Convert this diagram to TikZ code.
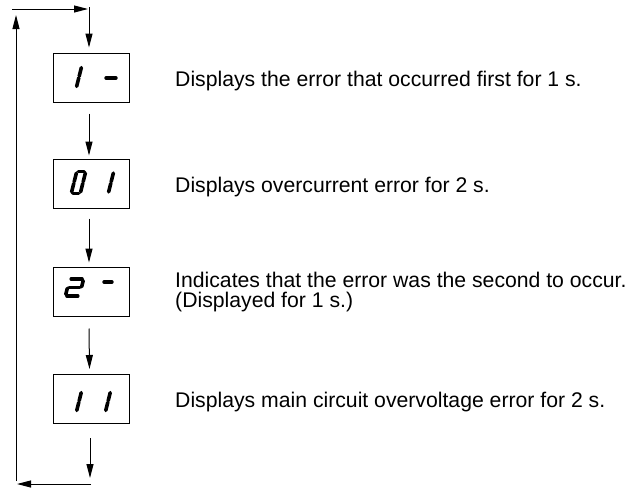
\documentclass[tikz,border=0pt]{standalone}
\usepackage{fontspec}
\setmainfont{Liberation Sans}
\usetikzlibrary{arrows.meta}
\def\segGap{1.6}
\newcommand\segdigit[5]{%
\begin{scope}[shift={(#1,#2)},xslant=0.25]
\def\segHW{#3}\def\segHH{#4}%
\foreach \s in {#5}{%
 \if a\s \draw[segline] ({-\segHW+\segGap},{-\segHH}) -- ({\segHW-\segGap},{-\segHH});\fi
 \if b\s \draw[segline] ({\segHW},{-\segHH+\segGap}) -- ({\segHW},{-\segGap/2});\fi
 \if c\s \draw[segline] ({\segHW},{\segGap/2}) -- ({\segHW},{\segHH-\segGap});\fi
 \if d\s \draw[segline] ({-\segHW+\segGap},{\segHH}) -- ({\segHW-\segGap},{\segHH});\fi
 \if e\s \draw[segline] ({-\segHW},{\segGap/2}) -- ({-\segHW},{\segHH-\segGap});\fi
 \if f\s \draw[segline] ({-\segHW},{-\segHH+\segGap}) -- ({-\segHW},{-\segGap/2});\fi
 \if g\s \draw[segline] ({-\segHW+\segGap},0) -- ({\segHW-\segGap},0);\fi
}%
\end{scope}}
\tikzset{
  segline/.style={line width=3.6pt, line cap=round},
  dispbox/.style={draw, line width=1pt, minimum width=76pt, minimum height=49pt, inner sep=0pt},
  arr/.style={line width=1pt, -{Triangle[length=14pt,width=7pt]}},
  desc/.style={anchor=base west, inner sep=0pt, align=left, font=\fontsize{21.2}{19.5}\selectfont}
}
\begin{document}
\begin{tikzpicture}[x=1pt,y=-1pt]
\useasboundingbox (0,0) rectangle (630,488);
% boxes
\node[dispbox] (b1) at (91,77.5) {};
\node[dispbox] (b2) at (91,183.5) {};
\node[dispbox] (b3) at (91,291.5) {};
\node[dispbox] (b4) at (91.5,399) {};
% digits
\segdigit{75}{77}{4}{11}{b,c}
\segdigit{111}{78}{6.5}{10}{g}
\segdigit{78.5}{182.5}{4.5}{11}{a,b,c,d,e,f}
\segdigit{106.75}{182.5}{4.25}{11}{b,c}
\segdigit{74.5}{287.5}{7}{8.5}{a,b,g,e,d}
\segdigit{108}{282}{5.5}{8}{g}
\segdigit{75}{401.5}{4}{10.5}{b,c}
\segdigit{104}{401.5}{4}{10.5}{b,c}
% texts
\node[desc] (t1) at (175,86) {Displays the error that occurred first for 1 s.};
\node[desc] (t2) at (175,192) {Displays overcurrent error for 2 s.};
\node[desc] (t3) at (175,307) {Indicates that the error was the second to occur.\\(Displayed for 1 s.)};
\node[desc] (t4) at (175,407) {Displays main circuit overvoltage error for 2 s.};
% loop coordinates
\coordinate (tl) at (12,9);
\coordinate (tr) at (88,9);
\coordinate (ts) at (89,7);
\coordinate (lb) at (16,481);
\coordinate (lt) at (16,15);
\coordinate (bs) at (90,438);
\coordinate (be) at (90,478);
\coordinate (br) at (91,484);
\coordinate (bl) at (17,484);
% connectors
\draw[arr] (tl) -- (tr);
\draw[arr] (ts) -- ([xshift=-2pt,yshift=5pt]b1.north);
\draw[arr] ([xshift=-2pt,yshift=-11pt]b1.south) -- ([xshift=-2pt,yshift=3pt]b2.north);
\draw[arr] ([xshift=-2pt,yshift=-10pt]b2.south) -- ([xshift=-2pt,yshift=4pt]b3.north);
\draw[arr] ([xshift=-2pt,yshift=-12pt]b3.south) -- ([xshift=-2pt,yshift=5pt]b4.north);
\draw[arr] (bs) -- (be);
\draw[arr] (br) -- (bl);
\draw[arr] (lb) -- (lt);
\end{tikzpicture}
\end{document}
